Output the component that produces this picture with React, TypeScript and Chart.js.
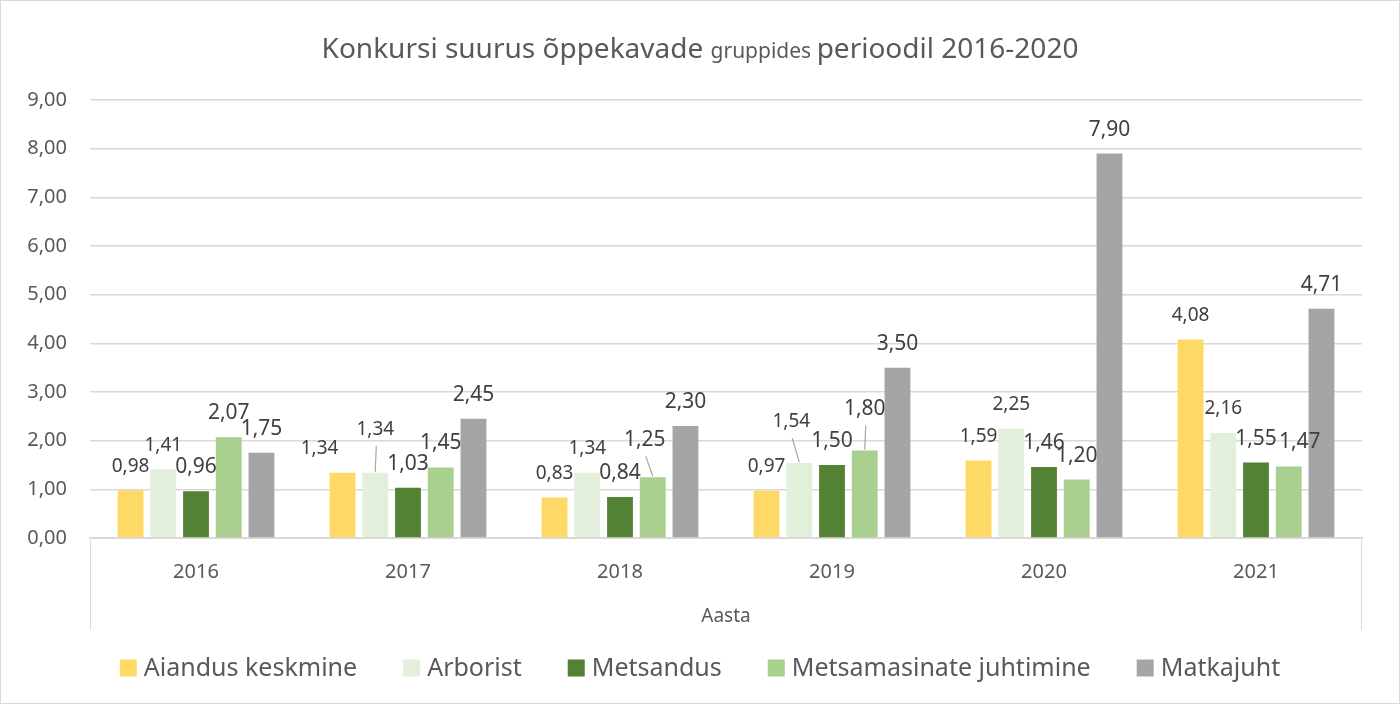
import { useEffect, useRef } from "react";
import { Chart, registerables } from "chart.js";

Chart.register(...registerables);

const years = ["2016", "2017", "2018", "2019", "2020", "2021"];
const seriesNames = ["Aiandus keskmine", "Arborist", "Metsandus", "Metsamasinate juhtimine", "Matkajuht"];
const aiandus = [0.98, 1.34, 0.83, 0.97, 1.59, 4.08];
const arborist = [1.41, 1.34, 1.34, 1.54, 2.25, 2.16];
const metsandus = [0.96, 1.03, 0.84, 1.5, 1.46, 1.55];
const metsamasinate = [2.07, 1.45, 1.25, 1.8, 1.2, 1.47];
const matkajuht = [1.75, 2.45, 2.3, 3.5, 7.9, 4.71];
const seriesColors = ["#FFD966", "#E2EFDA", "#548235", "#A9D08E", "#A5A5A5"];
const yMax = 9;
const yStep = 1;

const titleParts = [
  { text: "Konkursi suurus õppekavade ", size: 28 },
  { text: "gruppides ", size: 21 },
  { text: "perioodil 2016-2020", size: 28 },
];
const xTitle = "Aasta";

// label nudges (like Excel's manually moved data labels)
const labelNudges = [
  { series: 0, index: 1, dx: -23, dy: 0, leader: false },
  { series: 1, index: 1, dx: 0, dy: -19, leader: true },
  { series: 3, index: 2, dx: -8, dy: -13, leader: true },
  { series: 1, index: 3, dx: -8, dy: -17, leader: true },
  { series: 3, index: 3, dx: 0, dy: -17, leader: true },
  { series: 3, index: 5, dx: 11, dy: 0, leader: false },
];

const FONT = '"Noto Sans", "Open Sans", sans-serif';
const TEXT = "#595959";
const LABEL = "#404040";
const GRID = "#D9D9D9";

const fmt = (v: number) => v.toFixed(2).replace(".", ",");

const decorPlugin = {
  id: "decor",
  afterDraw(chart: any) {
    const { ctx, chartArea, scales } = chart;
    const W = chart.width;
    const H = chart.height;
    ctx.save();
    // outer border
    ctx.strokeStyle = GRID;
    ctx.lineWidth = 1;
    ctx.strokeRect(0.5, 0.5, W - 1, H - 1);

    // category axis box sides
    const xs = scales.x;
    ctx.beginPath();
    ctx.moveTo(Math.round(chartArea.left) + 0.5, chartArea.bottom);
    ctx.lineTo(Math.round(chartArea.left) + 0.5, xs.bottom);
    ctx.moveTo(Math.round(chartArea.right) - 0.5, chartArea.bottom);
    ctx.lineTo(Math.round(chartArea.right) - 0.5, xs.bottom);
    ctx.stroke();

    // title with mixed sizes
    ctx.fillStyle = TEXT;
    ctx.textBaseline = "alphabetic";
    ctx.textAlign = "left";
    let total = 0;
    const widths = titleParts.map((p) => {
      ctx.font = `${p.size}px ${FONT}`;
      const w = ctx.measureText(p.text).width;
      total += w;
      return w;
    });
    let tx = W / 2 - total / 2;
    titleParts.forEach((p, i) => {
      ctx.font = `${p.size}px ${FONT}`;
      ctx.fillText(p.text, tx, 58);
      tx += widths[i];
    });

    // data labels
    ctx.textAlign = "center";
    ctx.textBaseline = "middle";
    chart.data.datasets.forEach((ds: any, si: number) => {
      const meta = chart.getDatasetMeta(si);
      const size = si < 2 ? 19 : 21;
      ctx.font = `${size}px ${FONT}`;
      meta.data.forEach((bar: any, i: number) => {
        const n = labelNudges.find((q) => q.series === si && q.index === i);
        const dx = n ? n.dx : 0;
        const dy = n ? n.dy : 0;
        const lx = bar.x + dx;
        const ly = bar.y - 24 + dy;
        ctx.fillStyle = LABEL;
        ctx.fillText(fmt(ds.data[i]), lx, ly);
        if (n && n.leader) {
          ctx.strokeStyle = "#A6A6A6";
          ctx.lineWidth = 1.2;
          ctx.beginPath();
          ctx.moveTo(lx + 1, ly + 16);
          ctx.lineTo(bar.x, bar.y - 1);
          ctx.stroke();
        }
      });
    });

    // legend
    const box = 17;
    const boxGap = 7;
    const itemGap = 46;
    ctx.font = `25px ${FONT}`;
    const tw = seriesNames.map((s) => ctx.measureText(s).width);
    const legendW = tw.reduce((a, b) => a + b + box + boxGap, 0) + itemGap * (seriesNames.length - 1);
    let lx = W / 2 - legendW / 2;
    const ly = 668;
    ctx.textAlign = "left";
    ctx.textBaseline = "middle";
    seriesNames.forEach((s, i) => {
      ctx.fillStyle = seriesColors[i];
      ctx.fillRect(lx, ly - box / 2, box, box);
      ctx.fillStyle = TEXT;
      ctx.fillText(s, lx + box + boxGap, ly + 1);
      lx += box + boxGap + tw[i] + itemGap;
    });
    ctx.restore();
  },
};

export default function App() {
  const ref = useRef<HTMLCanvasElement | null>(null);
  useEffect(() => {
    document.body.style.margin = "0";
    const canvas = ref.current;
    if (!canvas) return;
    const all = [aiandus, arborist, metsandus, metsamasinate, matkajuht];
    const chart = new Chart(canvas, {
      type: "bar",
      data: {
        labels: years,
        datasets: all.map((d, i) => ({
          label: seriesNames[i],
          data: d,
          backgroundColor: seriesColors[i],
          borderWidth: 0,
          categoryPercentage: 0.772,
          barPercentage: 0.79,
        })),
      },
      options: {
        responsive: false,
        animation: false,
        devicePixelRatio: 1,
        layout: { padding: { top: 100, left: 0, right: 38, bottom: 74 } },
        plugins: {
          legend: { display: false },
          title: { display: false },
          tooltip: { enabled: false },
        },
        scales: {
          x: {
            grid: { display: false },
            border: { display: true, color: GRID, width: 2 },
            ticks: { color: TEXT, font: { family: FONT, size: 20 }, padding: 14 },
            title: {
              display: true,
              text: xTitle,
              color: TEXT,
              font: { family: FONT, size: 19 },
              padding: { top: 0, bottom: 2 },
            },
            afterFit(scale: any) {
              scale.height = 92;
            },
          },
          y: {
            min: 0,
            max: yMax,
            ticks: {
              stepSize: yStep,
              color: TEXT,
              font: { family: FONT, size: 20 },
              padding: 23,
              callback: (v: any) => fmt(Number(v)),
            },
            grid: { color: GRID, lineWidth: 1.5, drawTicks: false },
            border: { display: false },
            afterFit(scale: any) {
              scale.width = 90;
            },
          },
        },
      },
      plugins: [decorPlugin],
    });
    return () => chart.destroy();
  }, []);
  return <canvas ref={ref} width={1400} height={704} style={{ display: "block", width: 1400, height: 704 }} />;
}
